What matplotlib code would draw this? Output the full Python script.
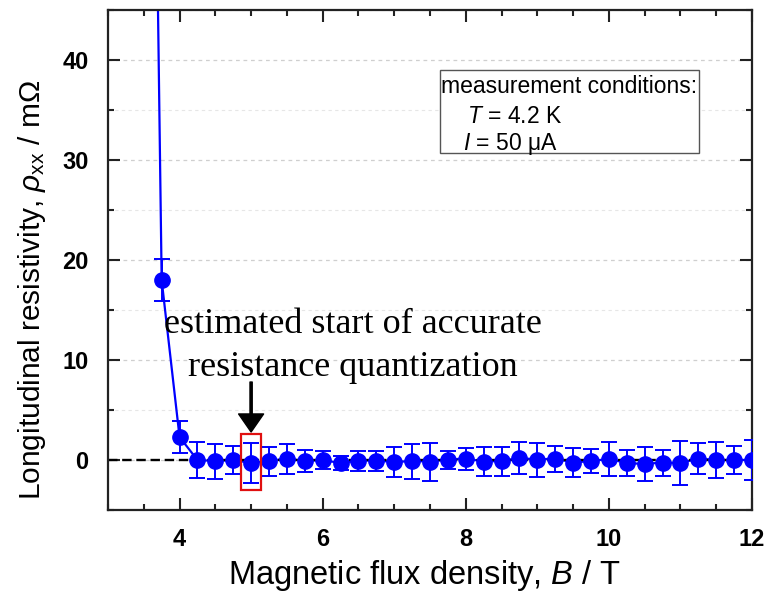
import numpy as np
import matplotlib
matplotlib.use("Agg")
from matplotlib import pyplot as plt
from matplotlib.patches import Rectangle
from matplotlib.ticker import MultipleLocator

# Donnees (B en T, rho_xx en mOhm)
B = [3.5, 3.75, 4.0, 4.25, 4.5, 4.75, 5.0, 5.25, 5.5, 5.75, 6.0, 6.25, 6.5, 6.75,
     7.0, 7.25, 7.5, 7.75, 8.0, 8.25, 8.5, 8.75, 9.0, 9.25, 9.5, 9.75, 10.0,
     10.25, 10.5, 10.75, 11.0, 11.25, 11.5, 11.75, 12.0]
rho = [150.0, 18.0, 2.3, 0.0, -0.1, 0.0, -0.3, -0.1, 0.15, -0.1, 0.0, -0.3, -0.05, -0.05,
       -0.2, -0.1, -0.15, 0.05, 0.15, -0.15, -0.1, 0.2, 0.05, 0.15, -0.25, -0.1, 0.1,
       -0.3, -0.4, -0.25, -0.3, 0.15, 0.0, 0.0, 0.0]
err = [0.0, 2.1, 1.6, 1.8, 1.75, 1.4, 2.0, 1.45, 1.5, 1.1, 0.9, 0.7, 1.0, 1.0,
       1.5, 1.75, 1.9, 0.9, 1.1, 1.45, 1.45, 1.6, 1.7, 1.3, 1.45, 1.2, 1.7,
       1.3, 1.7, 1.3, 2.2, 1.55, 1.8, 1.4, 2.0]

B_marked = 5.0
note_lines = ["estimated start of accurate", "resistance quantization"]
cond_lines = ["measurement conditions:", "$\\it{T}$ = 4.2 K", "$\\it{I}$ = 50 μA"]

plt.rcParams['font.family'] = ['Liberation Sans', 'DejaVu Sans']
plt.rcParams['mathtext.fontset'] = 'custom'
plt.rcParams['mathtext.it'] = 'Liberation Sans:italic'
plt.rcParams['mathtext.rm'] = 'Liberation Sans'

fig = plt.figure(figsize=(7.67, 5.92), dpi=100)
ax = fig.add_axes([0.1408, 0.1385, 0.8396, 0.8445])

blue = '#0000ff'
# Courbe + ligne de reference a zero
ax.plot(B, rho, color=blue, lw=1.6, zorder=2)
ax.axhline(0, color='black', lw=1.7, ls=(0, (4, 2)), zorder=2.5)
ax.errorbar(B, rho, yerr=err, fmt='o', color=blue, ms=11, elinewidth=1.4,
            capsize=6, capthick=1.4, zorder=3)

ax.set_xlim(3, 12)
ax.set_ylim(-5, 45)
ax.xaxis.set_minor_locator(MultipleLocator(0.5))
ax.yaxis.set_minor_locator(MultipleLocator(5))
ax.set_xticks([4, 6, 8, 10, 12])
ax.set_yticks([0, 10, 20, 30, 40])

ax.grid(axis='y', which='major', color='#cfcfcf', lw=0.9, ls=(0, (3, 3)))
ax.grid(axis='y', which='minor', color='#e6e6e6', lw=0.8, ls=(0, (3, 3)))
ax.set_axisbelow(True)

for s in ax.spines.values():
    s.set_linewidth(1.6)
    s.set_color('#222222')
ax.tick_params(which='both', direction='in', top=True, right=True, width=1.5, color='#222222')
ax.tick_params(which='major', length=8.5)
ax.tick_params(which='minor', length=4.5)
ax.tick_params(axis='y', pad=14)
ax.tick_params(axis='x', pad=13)
for lab in ax.get_xticklabels() + ax.get_yticklabels():
    lab.set_fontsize(17)
    lab.set_fontweight('bold')

fig.text(0.553, 0.0135, 'Magnetic flux density, $\\it{B}$ / T', fontsize=23.5, ha='center', va='baseline')
fig.text(0.042, 0.51, 'Longitudinal resistivity, $\\it{\\rho}_{\\rm xx}$ / mΩ', fontsize=21.5,
         rotation=90, ha='center', va='center')

# Annotation
ax.text(6.42, 12.7, note_lines[0], family='Liberation Serif', fontsize=26, ha='center', va='baseline')
ax.text(6.42, 8.4, note_lines[1], family='Liberation Serif', fontsize=26, ha='center', va='baseline')
ax.annotate('', xy=(B_marked, 2.8), xytext=(B_marked, 7.8),
            arrowprops=dict(facecolor='black', edgecolor='black', width=1.6,
                            headwidth=18, headlength=13, shrink=0))
ax.add_patch(Rectangle((B_marked - 0.14, -3.0), 0.28, 5.6, fill=False,
                       edgecolor='#e01010', lw=1.6, zorder=4))

# Boite des conditions de mesure
ax.add_patch(Rectangle((0.5155, 0.714), 0.402, 0.166, transform=ax.transAxes,
                       fill=True, facecolor='white', edgecolor='#555555', lw=1.0, zorder=5))
ax.text(0.517, 0.847, cond_lines[0], transform=ax.transAxes, fontsize=16.5, va='center', zorder=6)
ax.text(0.557, 0.787, cond_lines[1], transform=ax.transAxes, fontsize=16.5, va='center', zorder=6)
ax.text(0.552, 0.733, cond_lines[2], transform=ax.transAxes, fontsize=16.5, va='center', zorder=6)

fig.savefig('out.png', dpi=100)
